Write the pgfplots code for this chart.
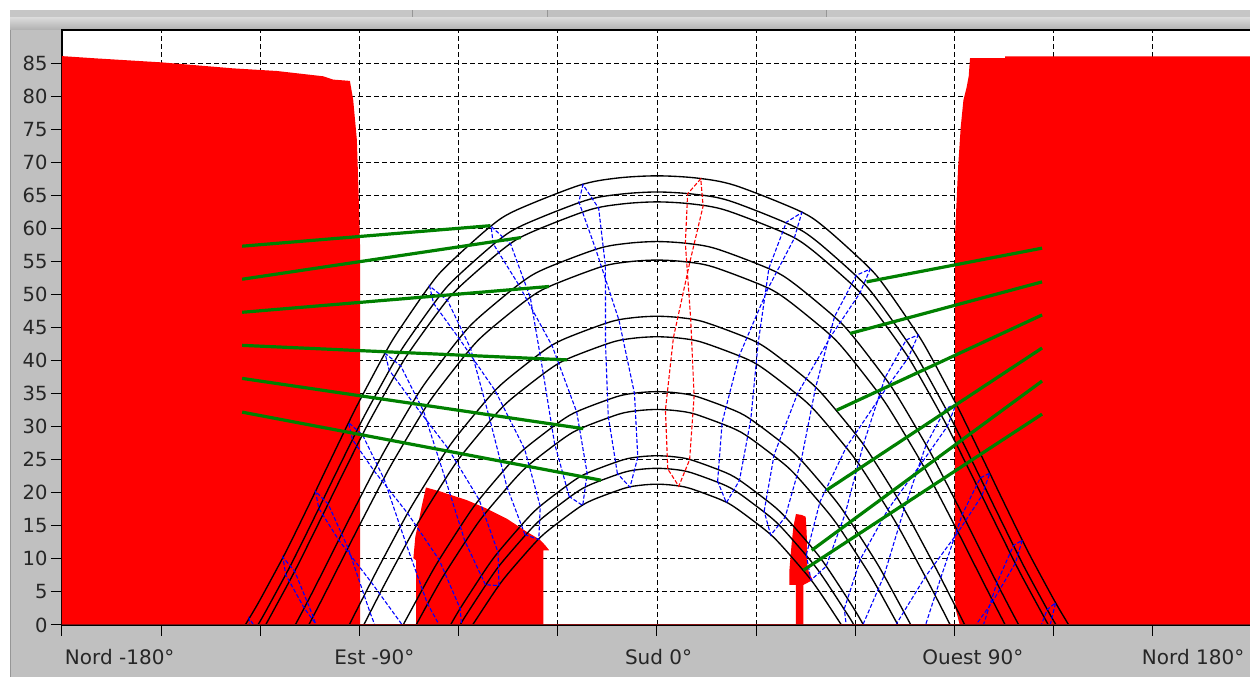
\documentclass[border=0pt]{standalone}
\usepackage{pgfplots}
\pgfplotsset{compat=1.18}
\usepackage{xcolor}
\usepackage{fontspec}
\setmainfont{DejaVu Sans}

\definecolor{maskred}{RGB}{255,0,0}
\definecolor{hourblue}{RGB}{0,0,255}
\definecolor{tagreen}{RGB}{0,128,0}
\definecolor{panel}{RGB}{192,192,192}
\definecolor{panelline}{RGB}{150,150,150}
\definecolor{horizon}{RGB}{128,16,16}

\tikzset{
  mask/.style={fill=maskred, draw=none},
  day/.style={black, line width=1.35pt, smooth, tension=0.5},
  hour/.style={hourblue, line width=1.1pt, dash pattern=on 4pt off 2pt},
  tag/.style={tagreen, line width=3.2pt},
}

\begin{document}
\begin{tikzpicture}[x=1pt, y=1pt]
  \useasboundingbox (0,0) rectangle (1250,677);
  \fill[white] (0,0) rectangle (1250,677);
  % window frame
  \fill[panel] (10,0) rectangle (1250,667);
  \draw[panelline] (10.5,0) -- (10.5,667);
  \fill[gray!45] (10,659) rectangle (1250,667);
  \fill[panel] (547,659) rectangle (826,667);
  \draw[panelline] (412,659) -- (412,667) (547,659) -- (547,667) (826,659) -- (826,667);
  \shade[top color=gray!30, bottom color=gray!62] (10,647) rectangle (1250,659);
  \fill[white] (62,52) rectangle (1252,647);

  \begin{axis}[
    at={(62pt,52pt)}, anchor=south west,
    width=1190pt, height=595pt, scale only axis,
    xmin=-180, xmax=180, ymin=0, ymax=90,
    xtick={-180,-150,...,180},
    xticklabels={
      \makebox[0pt][l]{\hspace{3pt}Nord -180°}, {}, {},
      \makebox[0pt][l]{\hspace{-25pt}Est -90°}, {}, {},
      \makebox[0pt][l]{\hspace{-32pt}Sud 0°}, {}, {},
      \makebox[0pt][l]{\hspace{-32pt}Ouest 90°}, {}, {},
      \makebox[0pt][l]{\hspace{-110pt}Nord 180°}},
    ytick={0,5,...,85},
    xtick pos=lower, ytick pos=left,
    tick align=outside,
    major tick length=11pt,
    tick style={black, line width=1pt},
    axis line style={black, line width=1.3pt},
    grid=major,
    major grid style={black, line width=0.9pt, dash pattern=on 5pt off 3pt},
    /pgf/number format/assume math mode=true,
    y tick label style={font=\fontsize{19.5}{20}\selectfont, text=black!85},
    x tick label style={font=\fontsize{20}{21}\selectfont, text=black!85, yshift=-10pt},
  ]
    % horizon mask
    \addplot[mask] coordinates {(-180,0) (-180,86.05) (-169.5,85.7) (-149.8,85.1) (-128.3,84.2) (-115,83.8) (-101,83.0) (-98,82.5) (-92.9,82.3) (-91.9,79.4) (-90.8,73.4) (-90.3,65.8) (-89.8,56.7) (-89.8,0)};
    \addplot[mask] coordinates {(91.6,0) (90.3,2.5) (90.1,5) (90.2,59.3) (91.1,69.3) (91.9,75.4) (92.7,79.4) (93.7,81.4) (94.3,83) (94.7,85.75) (105.3,85.75) (105.3,86.0) (180,86.0) (180,0)};
    \addplot[mask] coordinates {(-72.9,0) (-72.9,9.8) (-73.7,10.1) (-73.1,13.4) (-72.2,15.4) (-71.2,17.9) (-69.9,20.8) (-65.6,20.2) (-57.6,18.9) (-51.5,17.6) (-45.5,16.1) (-39.4,14.1) (-35.4,12.9) (-33.9,12.1) (-32.6,11.3) (-34.4,11.3) (-34.4,0)};
    \addplot[mask] coordinates {(42.05,0) (42.05,6.05) (40.02,6.05) (40.02,8.06) (40.75,12.4) (41.3,15) (42.05,16.79) (43.77,16.64) (44.98,16.38) (45.29,13.87) (45.47,8.82) (46.07,7.82) (47.10,6.81) (44.26,6.05) (44.26,0)};

    % daily sun paths
    \addplot[day] coordinates {(-124.58,0) (-123.74,0.69) (-120.25,3.66) (-113.48,9.91) (-110.18,13.16) (-103.64,19.87) (-100.36,23.30) (-93.65,30.25) (-90.15,33.75) (-82.68,40.75) (-78.59,44.2) (-69.33,50.94) (-63.95,54.16) (-50.97,60.04) (-43.03,62.64) (-23.54,66.5) (-12.10,67.6) (0,67.94) (12.10,67.6) (23.54,66.5) (43.03,62.64) (50.97,60.04) (63.95,54.16) (69.33,50.94) (78.59,44.2) (82.68,40.75) (90.15,33.75) (93.65,30.25) (100.36,23.30) (103.64,19.87) (110.18,13.16) (113.48,9.91) (120.25,3.66) (123.74,0.69) (124.58,0)};
    \addplot[day] coordinates {(-120.75,0) (-118.64,1.82) (-111.75,8.16) (-108.39,11.45) (-101.73,18.22) (-98.39,21.67) (-91.53,28.65) (-87.96,32.16) (-80.30,39.12) (-76.11,42.55) (-66.66,49.19) (-61.21,52.35) (-48.24,58.08) (-40.45,60.51) (-21.83,64.18) (-11.17,65.16) (0,65.5) (11.17,65.16) (21.83,64.18) (40.45,60.51) (48.24,58.08) (61.21,52.35) (66.66,49.19) (76.11,42.55) (80.30,39.12) (87.96,32.16) (91.53,28.65) (98.39,21.67) (101.73,18.22) (108.39,11.45) (111.75,8.16) (118.64,1.82) (120.75,0)};
    \addplot[day] coordinates {(-118.44,0) (-117.65,0.69) (-110.70,7.09) (-107.31,10.40) (-100.58,17.20) (-97.20,20.66) (-90.26,27.65) (-86.64,31.15) (-78.88,38.10) (-74.65,41.51) (-65.11,48.09) (-59.63,51.20) (-46.70,56.81) (-39.02,59.19) (-20.92,62.72) (-10.67,63.68) (0,64.0) (10.67,63.68) (20.92,62.72) (39.02,59.19) (46.70,56.81) (59.63,51.20) (65.11,48.09) (74.65,41.51) (78.88,38.10) (86.64,31.15) (90.26,27.65) (97.20,20.66) (100.58,17.20) (107.31,10.40) (110.70,7.09) (117.65,0.69) (118.44,0)};
    \addplot[day] coordinates {(-109.45,0) (-106.52,2.76) (-103.03,6.15) (-96.08,13.06) (-92.58,16.55) (-85.40,23.55) (-81.64,27.04) (-73.62,33.88) (-69.25,37.20) (-59.53,43.52) (-54.04,46.45) (-41.47,51.65) (-34.27,53.81) (-18.01,56.90) (-9.13,57.72) (0,58.0) (9.13,57.72) (18.01,56.90) (34.27,53.81) (41.47,51.65) (54.04,46.45) (59.53,43.52) (69.25,37.20) (73.62,33.88) (81.64,27.04) (85.40,23.55) (92.58,16.55) (96.08,13.06) (103.03,6.15) (106.52,2.76) (109.45,0)};
    \addplot[day] coordinates {(-105.36,0) (-104.59,0.74) (-101.06,4.16) (-94.04,11.10) (-90.50,14.60) (-83.24,21.59) (-79.44,25.06) (-71.34,31.84) (-66.95,35.11) (-57.22,41.31) (-51.77,44.16) (-39.43,49.17) (-32.46,51.23) (-16.94,54.17) (-8.57,54.94) (0,55.2) (8.57,54.94) (16.94,54.17) (32.46,51.23) (39.43,49.17) (51.77,44.16) (57.22,41.31) (66.95,35.11) (71.34,31.84) (79.44,25.06) (83.24,21.59) (90.50,14.60) (94.04,11.10) (101.06,4.16) (104.59,0.74) (105.36,0)};
    \addplot[day] coordinates {(-93.14,0) (-87.97,5.07) (-84.38,8.57) (-77.00,15.49) (-73.15,18.87) (-64.98,25.41) (-60.61,28.53) (-51.05,34.33) (-45.82,36.95) (-34.30,41.47) (-27.99,43.28) (-14.42,45.81) (-7.27,46.48) (0,46.7) (7.27,46.48) (14.42,45.81) (27.99,43.28) (34.30,41.47) (45.82,36.95) (51.05,34.33) (60.61,28.53) (64.98,25.41) (73.15,18.87) (77.00,15.49) (84.38,8.57) (87.97,5.07) (93.14,0)};
    \addplot[day] coordinates {(-88.72,0) (-85.80,2.86) (-82.20,6.34) (-74.82,13.21) (-70.98,16.56) (-62.85,23.00) (-58.50,26.06) (-49.07,31.71) (-43.93,34.26) (-32.73,38.60) (-26.66,40.34) (-13.68,42.76) (-6.89,43.39) (0,43.6) (6.89,43.39) (13.68,42.76) (26.66,40.34) (32.73,38.60) (43.93,34.26) (49.07,31.71) (58.50,26.06) (62.85,23.00) (70.98,16.56) (74.82,13.21) (82.20,6.34) (85.80,2.86) (88.72,0)};
    \addplot[day] coordinates {(-76.81,0) (-69.17,7.04) (-65.40,10.27) (-57.46,16.43) (-53.25,19.31) (-44.25,24.58) (-39.42,26.92) (-29.08,30.86) (-23.58,32.42) (-12.01,34.56) (-6.04,35.11) (0,35.3) (6.04,35.11) (12.01,34.56) (23.58,32.42) (29.08,30.86) (39.42,26.92) (44.25,24.58) (53.25,19.31) (57.46,16.43) (65.40,10.27) (69.17,7.04) (76.81,0)};
    \addplot[day] coordinates {(-72.89,0) (-67.37,5.02) (-63.64,8.20) (-55.79,14.26) (-51.64,17.08) (-42.80,22.22) (-38.08,24.50) (-28.02,28.32) (-22.69,29.82) (-11.54,31.89) (-5.80,32.42) (0,32.6) (5.80,32.42) (11.54,31.89) (22.69,29.82) (28.02,28.32) (38.08,24.50) (42.80,22.22) (51.64,17.08) (55.79,14.26) (63.64,8.20) (67.37,5.02) (72.89,0)};
    \addplot[day] coordinates {(-62.48,0) (-59.14,2.82) (-51.61,8.59) (-47.64,11.26) (-39.26,16.08) (-34.83,18.19) (-25.49,21.72) (-20.59,23.09) (-10.44,24.96) (-5.24,25.44) (0,25.6) (5.24,25.44) (10.44,24.96) (20.59,23.09) (25.49,21.72) (34.83,18.19) (39.26,16.08) (47.64,11.26) (51.61,8.59) (59.14,2.82) (62.48,0)};
    \addplot[day] coordinates {(-59.56,0) (-57.94,1.35) (-50.49,7.04) (-46.58,9.67) (-38.35,14.39) (-33.99,16.46) (-24.84,19.91) (-20.06,21.25) (-10.16,23.07) (-5.10,23.54) (0,23.7) (5.10,23.54) (10.16,23.07) (20.06,21.25) (24.84,19.91) (33.99,16.46) (38.35,14.39) (46.58,9.67) (50.49,7.04) (57.94,1.35) (59.56,0)};
    \addplot[day] coordinates {(-55.80,0) (-49.10,5.08) (-45.27,7.65) (-37.20,12.27) (-32.96,14.28) (-24.05,17.63) (-19.41,18.93) (-9.82,20.69) (-4.93,21.14) (0,21.3) (4.93,21.14) (9.82,20.69) (19.41,18.93) (24.05,17.63) (32.96,14.28) (37.20,12.27) (45.27,7.65) (49.10,5.08) (55.80,0)};

    % hour analemmas (Jan ... Dec, closed)
    \addplot[hour] coordinates {(-120.09,-1.38) (-123.39,0.99) (-122.79,-1.71) (-120.09,-1.38)};
    \addplot[hour] coordinates {(-82.98,-22.79) (-90.58,-17.40) (-97.55,-8.62) (-104.03,1.29) (-109.62,8.15) (-113.15,10.24) (-112.32,7.60) (-106.73,2.56) (-97.23,-3.98) (-87.51,-10.49) (-80.25,-17.17) (-78.72,-21.96) (-82.98,-22.79)};
    \addplot[hour] coordinates {(-72.96,-12.49) (-80.07,-6.92) (-86.81,1.89) (-93.47,11.66) (-99.50,18.31) (-103.31,20.21) (-102.30,17.63) (-96.29,12.85) (-86.50,6.51) (-76.91,-0.10) (-70.10,-7.02) (-68.87,-11.89) (-72.96,-12.49)};
    \addplot[hour] coordinates {(-62.78,-2.76) (-69.46,3.24) (-75.90,12.27) (-82.63,22.15) (-89.10,28.77) (-93.30,30.60) (-92.14,28.05) (-85.63,23.34) (-75.42,16.88) (-65.89,9.85) (-59.54,2.48) (-58.73,-2.47) (-62.78,-2.76)};
    \addplot[hour] coordinates {(-51.90,6.09) (-58.11,12.68) (-64.07,22.14) (-70.64,32.36) (-77.53,39.19) (-82.27,41.10) (-81.01,38.54) (-73.88,33.68) (-63.19,26.69) (-53.80,18.94) (-48.08,10.97) (-47.80,5.95) (-51.90,6.09)};
    \addplot[hour] coordinates {(-39.92,13.64) (-45.44,20.94) (-50.51,31.00) (-56.35,41.77) (-63.36,49.09) (-68.79,51.26) (-67.59,48.65) (-59.86,43.34) (-48.91,35.40) (-40.05,26.62) (-35.32,17.96) (-35.76,12.95) (-39.92,13.64)};
    \addplot[hour] coordinates {(-26.56,19.43) (-31.00,27.48) (-34.43,38.11) (-38.31,49.50) (-44.24,57.57) (-50.18,60.30) (-49.56,57.67) (-41.90,51.52) (-31.71,42.21) (-24.29,32.22) (-21.13,22.94) (-22.47,18.07) (-26.56,19.43)};
    \addplot[hour] coordinates {(-11.98,22.90) (-14.75,31.59) (-15.58,42.58) (-15.60,54.29) (-17.64,63.03) (-22.40,66.61) (-23.64,64.01) (-18.54,56.85) (-11.49,46.08) (-6.82,35.04) (-5.81,25.39) (-8.16,20.84) (-11.98,22.90)};
    \addplot[hour, maskred] coordinates {(3.26,23.60) (2.55,32.52) (4.96,43.45) (9.91,54.82) (13.95,63.37) (13.24,67.49) (9.27,65.22) (8.58,57.74) (10.20,46.21) (11.23,34.63) (9.87,25.01) (6.59,20.99) (3.26,23.60)};
    \addplot[hour] coordinates {(18.34,21.73) (19.71,30.66) (24.96,40.83) (33.58,50.90) (41.48,58.43) (43.82,62.38) (39.13,60.92) (33.84,53.94) (30.58,42.54) (28.37,31.06) (24.95,21.87) (20.99,18.49) (18.34,21.73)};
    \addplot[hour] coordinates {(32.42,17.21) (35.44,25.78) (42.49,34.97) (52.64,43.70) (61.38,50.20) (64.49,53.84) (60.28,52.89) (53.71,46.63) (47.96,35.88) (43.62,24.88) (38.77,16.31) (34.40,13.60) (32.42,17.21)};
    \addplot[hour] coordinates {(45.17,10.62) (49.32,18.66) (57.28,26.92) (67.65,34.59) (76.00,40.42) (79.00,43.86) (75.40,43.13) (68.99,37.40) (62.40,27.25) (56.91,16.80) (51.17,8.88) (46.57,6.78) (45.17,10.62)};
    \addplot[hour] coordinates {(56.66,2.44) (61.55,9.98) (69.90,17.50) (80.05,24.50) (87.80,30.03) (90.50,33.40) (87.35,32.76) (81.41,27.25) (74.73,17.48) (68.68,7.46) (62.35,0.10) (57.60,-1.51) (56.66,2.44)};
    \addplot[hour] coordinates {(67.18,-6.84) (72.61,0.31) (81.19,7.31) (91.07,14.04) (98.28,19.55) (100.69,22.96) (97.82,22.26) (92.37,16.76) (85.85,7.14) (79.54,-2.64) (72.75,-9.61) (67.82,-10.85) (67.18,-6.84)};
    \addplot[hour] coordinates {(77.21,-16.83) (83.12,-9.98) (91.93,-3.17) (101.62,3.61) (108.39,9.34) (110.51,12.84) (107.82,12.01) (102.82,6.35) (96.59,-3.36) (90.14,-13.09) (82.90,-19.87) (77.67,-20.87) (77.21,-16.83)};
    \addplot[hour] coordinates {(112.44,-6.43) (118.80,-0.29) (120.60,3.36) (118.04,2.33) (113.47,-3.63) (112.44,-6.43)};

    % label leaders
    \addplot[tag] coordinates {(-125.5,57.3) (-50.4,60.4)};
    \addplot[tag] coordinates {(-125.5,52.3) (-41.2,58.6)};
    \addplot[tag] coordinates {(-125.5,47.3) (-32.7,51.2)};
    \addplot[tag] coordinates {(-125.5,42.3) (-27.2,40.1)};
    \addplot[tag] coordinates {(-125.5,37.3) (-22.3,29.7)};
    \addplot[tag] coordinates {(-125.5,32.2) (-16.9,21.9)};
    \addplot[tag] coordinates {(116.5,57.0) (63.4,51.9)};
    \addplot[tag] coordinates {(116.5,51.9) (58.4,44.1)};
    \addplot[tag] coordinates {(116.5,46.9) (54.4,32.5)};
    \addplot[tag] coordinates {(116.5,41.9) (51.3,20.4)};
    \addplot[tag] coordinates {(116.5,36.9) (46.8,11.3)};
    \addplot[tag] coordinates {(116.5,31.9) (44.3,8.3)};

    % horizon line
    \addplot[horizon, line width=2pt] coordinates {(-180,0) (180,0)};
  \end{axis}
\end{tikzpicture}
\end{document}
